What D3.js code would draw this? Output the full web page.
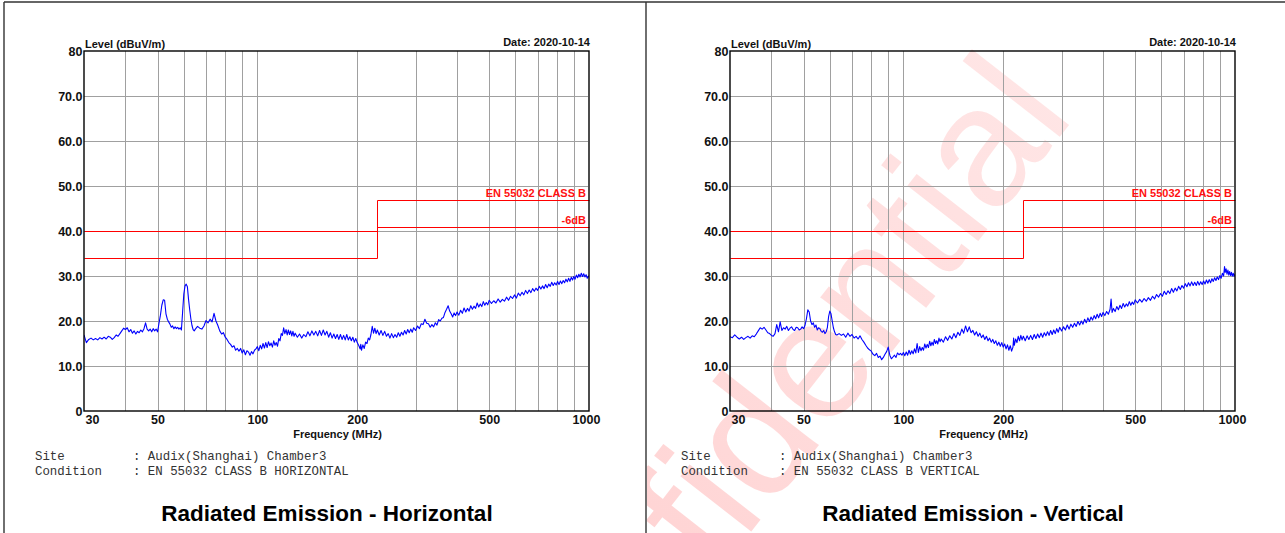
<!DOCTYPE html>
<html><head><meta charset="utf-8">
<script src="https://cdn.jsdelivr.net/npm/d3@7"></script>
<style>
html,body{margin:0;padding:0;background:#fff;}
svg{display:block;}
</style></head><body>
<svg id="c" width="1285" height="533"></svg>
<script>
// ---------- data ----------
const freqTicks = [30, 50, 100, 200, 500, 1000];
const freqGrid = [40, 50, 60, 70, 80, 90, 100, 200, 300, 400, 500, 600, 700, 800, 900];
const levelTicks = [0, 10, 20, 30, 40, 50, 60, 70, 80];
const levelGrid = [10, 20, 30, 40, 50, 60, 70];
const limitFreq = [30, 230, 230, 1000];
const limitClassB = [40, 40, 47, 47];
const limitMinus6 = [34, 34, 41, 41];
const limitLabels = ["EN 55032 CLASS B", "-6dB"];
const dateText = "Date: 2020-10-14";
const infoLabels = ["Site", "Condition"];
const siteText = "Audix(Shanghai) Chamber3";
const conditions = ["EN 55032 CLASS B HORIZONTAL", "EN 55032 CLASS B VERTICAL"];
const titles = ["Radiated Emission - Horizontal", "Radiated Emission - Vertical"];
const watermarkText = "Confidential";

// measured trace, horizontal polarisation [MHz, dBuV/m]
const horizontal = [
[30,16.9],[30.5,15.2],[31,15.9],[31.5,16.2],[32,15.8],[32.5,16.1],[33,15.8],[33.5,16.3],[34,16.0],[34.5,16.4],
[35,16.0],[35.5,16.6],[36,16.4],[36.5,15.9],[37,16.3],[37.5,16.9],[38,16.6],[38.5,17.2],[39,17.8],[39.5,18.4],
[40,18.1],[40.5,18.5],[41,17.6],[41.5,18.1],[42,17.3],[42.5,17.8],[43,17.1],[43.5,17.7],[44,17.4],[44.5,18.0],
[45,17.6],[45.5,18.3],[46,19.6],[46.5,18.2],[47,17.8],[47.5,18.2],[48,17.6],[48.5,18.3],[49,17.8],[49.5,18.2],
[50,17.6],[50.5,19.5],[51,21.3],[51.5,23.5],[52,24.7],[52.5,24.6],[53,21.6],[53.5,20.4],[54,19.8],[54.5,19.3],
[55,18.6],[55.5,18.9],[56,18.3],[56.5,18.7],[57,18.3],[57.5,18.6],[58,18.2],[58.5,18.5],[59,18.0],[59.5,22.0],
[60,26.0],[60.5,27.8],[61,28.2],[61.5,27.6],[62,24.8],[62.5,22.5],[63,20.5],[63.5,19.0],[64,18.1],[64.5,17.8],
[65,18.2],[66,18.8],[67,18.4],[68,18.2],[69,18.9],[70,20.1],[71,19.6],[72,20.4],[73,19.8],[74,21.7],
[75,20.0],[76,19.0],[77,17.8],[78,17.1],[79,17.4],[80,16.4],[81,15.9],[82,15.2],[83,14.8],[84,14.2],
[85,14.5],[86,13.5],[87,13.9],[88,13.3],[89,13.9],[90,12.9],[91,13.6],[92,12.5],[93,13.4],[94,13.1],
[95,12.4],[96,13.2],[97,12.7],[98,13.5],[99,13.8],
[100,14.3],[101,13.4],[102,14.6],[103,13.8],[104,15.0],[105,14.0],[106,15.2],[107,14.1],[108,15.4],[109,14.5],
[110,15.1],[111,14.2],[112,15.6],[113,14.6],[114,15.2],[115,14.4],[116,16.1],[117,15.6],[118,17.2],[119,16.8],
[120,18.5],[121,17.2],[122,18.1],[123,16.9],[124,18.0],[125,17.0],[126,17.8],[127,16.7],[128,17.7],[129,16.6],
[130,17.3],[132,16.4],[134,17.1],[136,16.2],[138,17.0],[140,16.5],[142,17.6],[144,16.7],[146,17.8],[148,16.9],
[150,17.7],[152,16.7],[154,17.9],[156,16.8],[158,18.0],[160,16.9],[162,17.7],[164,16.4],[166,17.4],[168,16.2],
[170,17.1],[172,16.1],[174,17.0],[176,15.9],[178,17.0],[180,15.9],[182,16.8],[184,15.8],[186,17.0],[188,15.8],
[190,16.5],[192,15.6],[194,16.4],[196,15.3],[198,16.1],[200,15.2],[202,14.6],[204,13.8],[205,14.8],[206,13.5],
[208,14.7],[210,13.9],[212,15.3],[214,15.0],[216,16.2],[218,15.8],[220,17.0],[222,18.8],[224,17.3],[226,18.4],
[228,17.2],[230,18.0],[233,16.9],[236,17.9],[239,16.8],[242,17.7],[245,16.6],[248,17.2],[251,16.2],[254,17.2],
[257,16.3],[260,17.0],[263,16.4],[266,17.4],[269,16.6],[272,17.5],[275,16.9],[278,17.9],[281,17.1],[284,18.1],
[287,17.4],[290,18.2],[293,17.5],[296,18.5],[300,17.9],[304,18.9],[308,18.3],[312,19.4],[316,19.2],[320,20.4],
[324,19.5],[328,19.4],[332,18.6],[336,19.2],[340,18.7],[344,19.6],[348,19.1],[352,20.3],[356,20.0],[360,20.6],
[364,20.8],[368,21.9],[372,22.6],[376,23.4],[380,22.2],[384,21.6],[388,20.9],[392,21.8],[396,21.2],[400,22.0],
[405,21.3],[410,22.4],[415,21.7],[420,22.9],[425,22.0],[430,22.8],[435,22.2],[440,23.4],[445,22.6],[450,23.3],
[455,22.8],[460,24.0],[465,23.1],[470,23.8],[475,23.2],[480,24.3],[485,23.5],[490,24.1],[495,23.6],[500,24.6],
[508,23.9],[516,24.5],[524,24.0],[532,24.9],[540,24.2],[548,24.8],[556,24.4],[564,25.3],[572,24.6],[580,25.5],
[588,25.0],[596,25.8],[604,25.1],[612,26.2],[620,25.6],[628,26.4],[636,25.8],[644,26.8],[652,26.1],[660,26.9],
[668,26.3],[676,27.2],[684,26.6],[692,27.3],[700,26.8],[708,27.7],[716,27.1],[724,27.8],[732,27.2],[740,28.1],
[748,27.4],[756,28.2],[764,27.7],[772,28.6],[780,27.9],[788,28.5],[796,28.0],[804,28.8],[812,28.1],[820,28.9],
[828,28.3],[836,29.0],[844,28.5],[852,29.3],[860,28.7],[868,29.5],[876,28.8],[884,29.7],[892,29.1],[900,29.9],
[908,29.3],[916,30.2],[924,29.6],[932,30.4],[940,29.8],[948,30.6],[956,29.9],[964,30.5],[972,29.8],[980,30.3],
[988,29.5],[996,30.0],[1000,29.7]
];

// measured trace, vertical polarisation [MHz, dBuV/m]
const vertical = [
[30,16.5],[30.5,16.3],[31,16.9],[31.5,16.4],[32,16.0],[32.5,16.4],[33,15.9],[33.5,16.3],[34,16.6],[34.5,16.2],
[35,16.7],[35.5,16.5],[36,17.1],[36.5,17.8],[37,18.5],[37.5,18.2],[38,18.6],[38.5,18.0],[39,17.4],[39.5,17.2],
[40,16.8],[40.5,16.6],[41,17.2],[41.5,19.2],[42,17.6],[42.5,19.8],[43,17.9],[43.5,18.5],[44,18.2],[44.5,18.8],
[45,17.9],[45.5,18.4],[46,18.7],[46.5,18.1],[47,17.9],[47.5,18.6],[48,18.5],[48.5,18.0],[49,18.2],[49.5,18.7],
[50,18.3],[50.5,19.0],[51,20.5],[51.5,22.5],[52,22.0],[52.5,20.0],[53,19.2],[53.5,19.6],[54,18.6],[54.5,19.1],
[55,18.0],[55.5,18.5],[56,18.3],[56.5,17.7],[57,17.5],[57.5,17.9],[58,17.2],[58.5,17.6],[59,18.6],[59.5,21.0],
[60,22.2],[60.5,21.6],[61,20.0],[61.5,18.5],[62,17.6],[62.5,17.0],[63,16.9],[64,17.2],[65,16.8],[66,17.1],
[67,16.4],[68,17.3],[69,16.6],[70,17.0],[71,16.2],[72,16.6],[73,16.0],[74,16.7],[75,15.9],[76,15.3],
[77,14.6],[78,14.0],[79,13.6],[80,13.3],[81,12.6],[82,12.3],[83,12.8],[84,11.9],[85,12.2],[86,11.4],
[87,11.9],[88,12.6],[89,13.2],[90,14.2],[91,12.4],[92,11.6],[93,12.0],[94,12.4],[95,11.9],[96,12.9],
[97,12.5],[98,12.8],[99,12.4],
[100,13.0],[101,12.3],[102,13.1],[103,12.4],[104,13.5],[105,12.6],[106,13.4],[107,12.7],[108,13.8],[109,12.9],
[110,15.0],[111,13.0],[112,14.3],[113,13.4],[114,14.1],[115,13.5],[116,14.9],[117,14.0],[118,14.8],[119,14.1],
[120,15.5],[121,14.5],[122,15.3],[123,14.6],[124,15.9],[125,15.0],[126,15.6],[127,14.9],[128,16.2],[129,15.4],
[130,16.0],[132,15.3],[134,16.5],[136,15.7],[138,16.7],[140,16.0],[142,17.2],[144,16.3],[146,17.5],[148,16.8],
[150,18.2],[152,17.3],[154,18.9],[156,17.6],[158,18.7],[160,17.4],[162,17.9],[164,16.9],[166,17.6],[168,16.6],
[170,17.3],[172,16.3],[174,16.9],[176,15.9],[178,16.6],[180,15.6],[182,16.2],[184,15.3],[186,15.9],[188,15.0],
[190,15.6],[192,14.6],[194,15.3],[196,14.4],[198,15.2],[200,14.2],[202,14.9],[204,13.8],[206,14.7],[208,13.5],
[210,14.5],[212,13.3],[214,14.2],[215,16.2],[216,14.6],[218,16.0],[220,15.2],[222,16.6],[224,15.6],[226,16.8],
[228,15.8],[230,16.6],[233,15.6],[236,16.7],[239,15.9],[242,16.8],[245,15.9],[248,17.0],[251,16.1],[254,17.1],
[257,16.3],[260,17.3],[263,16.4],[266,17.4],[269,16.7],[272,17.6],[275,16.8],[278,17.9],[281,17.0],[284,18.0],
[287,17.2],[290,18.3],[293,17.5],[296,18.6],[300,17.8],[304,18.7],[308,18.0],[312,19.1],[316,18.2],[320,19.3],
[324,18.6],[328,19.5],[332,18.8],[336,19.9],[340,19.1],[344,20.0],[348,19.3],[352,20.4],[356,19.6],[360,20.7],
[364,19.9],[368,20.9],[372,20.2],[376,21.2],[380,20.5],[384,21.5],[388,20.7],[392,21.7],[396,21.0],[400,21.9],
[405,21.2],[410,22.1],[415,21.5],[420,22.6],[423,24.9],[426,21.9],[430,22.8],[435,22.1],[440,23.2],[445,22.5],
[450,23.5],[455,22.8],[460,23.9],[465,23.1],[470,23.8],[475,23.3],[480,24.3],[485,23.5],[490,24.2],[495,23.7],
[500,24.7],[508,24.0],[516,24.8],[524,24.2],[532,25.0],[540,24.4],[548,25.2],[556,24.6],[564,25.5],[572,24.9],
[580,25.9],[588,25.3],[596,26.1],[604,25.5],[612,26.6],[620,25.9],[628,26.7],[636,26.1],[644,27.2],[652,26.4],
[660,27.3],[668,26.7],[676,27.7],[684,27.0],[692,27.9],[700,27.3],[708,28.3],[716,27.6],[724,28.5],[732,27.8],
[740,28.7],[748,27.9],[756,28.6],[764,27.9],[772,28.8],[780,28.0],[788,28.7],[796,28.1],[804,28.9],[812,28.2],
[820,29.1],[828,28.4],[836,29.2],[844,28.5],[852,29.4],[860,28.8],[868,29.6],[876,29.0],[884,29.8],[892,29.2],
[900,30.1],[908,29.5],[916,30.6],[924,30.0],[930,32.1],[934,30.8],[940,31.6],[946,30.4],[952,31.3],[958,30.2],
[964,31.0],[970,30.1],[976,30.8],[982,30.0],[988,30.6],[994,29.9],[1000,30.4]
];

// ---------- drawing ----------
const svg = d3.select("#c");
const SANS = "'Liberation Sans', Arial, Helvetica, sans-serif";
const MONO = "'Liberation Mono', 'Courier New', monospace";

// watermark (behind everything, right page only)
const defs = svg.append("defs");
const grad = defs.append("linearGradient").attr("id", "wm")
  .attr("x1", 0).attr("y1", 0).attr("x2", 1).attr("y2", 0);
grad.append("stop").attr("offset", 0).attr("stop-color", "#ffcaca");
grad.append("stop").attr("offset", 0.5).attr("stop-color", "#ffd9d9");
grad.append("stop").attr("offset", 1).attr("stop-color", "#ffe5e5");
defs.append("clipPath").attr("id", "wmclip").append("rect")
  .attr("x", 647).attr("y", 3).attr("width", 640).attr("height", 533);
svg.append("g").attr("clip-path", "url(#wmclip)")
  .append("text")
  .attr("transform", "translate(1076,116) rotate(-52)")
  .attr("text-anchor", "end")
  .attr("font-family", SANS)
  .attr("font-size", 170)
  .attr("fill", "url(#wm)")
  .text(watermarkText);

// page frames
const frame = svg.append("g").attr("stroke", "#333").attr("stroke-width", 1.4).attr("fill", "none");
frame.append("line").attr("x1", 4).attr("x2", 1285).attr("y1", 2).attr("y2", 2);
frame.append("line").attr("x1", 4).attr("x2", 4).attr("y1", 2).attr("y2", 533);
frame.append("line").attr("x1", 646).attr("x2", 646).attr("y1", 2).attr("y2", 533);

function drawPanel(ox, trace, condition, title) {
  const L = 84, R = 589, T = 51, B = 411;
  const g = svg.append("g").attr("transform", `translate(${ox},0)`);
  const x = d3.scaleLog().domain([30, 1000]).range([L, R]);
  const y = d3.scaleLinear().domain([0, 80]).range([B, T]);
  const cx = v => Math.round(x(v)) + 0.5;
  const cy = v => Math.round(y(v)) + 0.5;

  // grid
  g.append("g").selectAll("line").data(freqGrid).join("line")
    .attr("x1", d => cx(d)).attr("x2", d => cx(d)).attr("y1", T).attr("y2", B)
    .attr("stroke", "#a0a0a0").attr("stroke-width", 1);
  g.append("g").selectAll("line").data(levelGrid).join("line")
    .attr("x1", L).attr("x2", R - 1).attr("y1", d => cy(d)).attr("y2", d => cy(d))
    .attr("stroke", "#a0a0a0").attr("stroke-width", 1);

  // limit lines
  const lim = d3.line().x(d => cx(d[0])).y(d => cy(d[1]));
  [limitClassB, limitMinus6].forEach(arr => {
    g.append("path").datum(limitFreq.map((f, i) => [f, arr[i]]))
      .attr("d", lim).attr("fill", "none").attr("stroke", "#ff0000").attr("stroke-width", 1);
  });
  const lblStyle = s => s.attr("text-anchor", "end").attr("font-family", SANS).attr("font-weight", "bold")
    .attr("font-size", 11).attr("fill", "#ff1010");
  g.append("text").attr("x", R - 3).attr("y", y(limitClassB[3]) - 3).call(lblStyle).text(limitLabels[0]);
  g.append("text").attr("x", R - 3).attr("y", y(limitMinus6[3]) - 3).call(lblStyle).text(limitLabels[1]);

  // trace
  const clipId = "pc" + ox;
  g.append("clipPath").attr("id", clipId).append("rect").attr("x", L).attr("y", T).attr("width", R - L).attr("height", B - T);
  g.append("path").datum(trace).attr("clip-path", `url(#${clipId})`)
    .attr("d", d3.line().x(d => x(d[0])).y(d => y(d[1])))
    .attr("fill", "none").attr("stroke", "#0000ff").attr("stroke-width", 1.1).attr("stroke-linejoin", "round");

  // frame
  g.append("rect").attr("x", L).attr("y", T).attr("width", R - L).attr("height", B - T)
    .attr("fill", "none").attr("stroke", "#000").attr("stroke-width", 1.4);

  // axes
  const fmtY = d => d === 0 ? "0" : d === 80 ? "80" : d.toFixed(1);
  const ya = g.append("g").attr("transform", `translate(${L},0)`)
    .call(d3.axisLeft(y).tickValues(levelTicks).tickFormat(fmtY).tickSize(0).tickPadding(1.5));
  ya.select(".domain").remove();
  ya.attr("font-family", SANS).attr("font-size", 12.5);
  ya.selectAll("text").attr("font-weight", "bold").attr("fill", "#111").attr("dy", "0.36em");

  const xa = g.append("g").attr("transform", `translate(0,${B})`)
    .call(d3.axisBottom(x).tickValues(freqTicks).tickFormat(d3.format("d")).tickSize(0).tickPadding(4));
  xa.select(".domain").remove();
  xa.attr("font-family", SANS).attr("font-size", 12.5);
  xa.selectAll("text").attr("font-weight", "bold").attr("fill", "#111");
  xa.selectAll("text").filter(d => d === 30).attr("text-anchor", "start").attr("dx", 1);
  xa.selectAll("text").filter(d => d === 1000).attr("dx", -3);

  // headings
  const head = s => s.attr("font-family", SANS).attr("font-weight", "bold").attr("font-size", 11).attr("fill", "#111");
  g.append("text").attr("x", L + 1).attr("y", 47.5).call(head).text("Level (dBuV/m)");
  g.append("text").attr("x", R + 1).attr("y", 45.5).attr("text-anchor", "end").call(head).text(dateText);
  g.append("text").attr("x", (L + R) / 2 + 1).attr("y", 438).attr("text-anchor", "middle").call(head).text("Frequency (MHz)");

  // info lines
  const info = g.append("g").attr("font-family", MONO).attr("font-size", 12.4).attr("fill", "#333");
  info.append("text").attr("x", 35).attr("y", 460).text(infoLabels[0]);
  info.append("text").attr("x", 133).attr("y", 460).text(": " + siteText);
  info.append("text").attr("x", 35).attr("y", 475).text(infoLabels[1]);
  info.append("text").attr("x", 133).attr("y", 475).text(": " + condition);

  g.append("text").attr("x", 327).attr("y", 521).attr("text-anchor", "middle").attr("font-family", SANS)
    .attr("font-weight", "bold").attr("font-size", 22.5).attr("fill", "#000").text(title);
}

drawPanel(0, horizontal, conditions[0], titles[0]);
drawPanel(646, vertical, conditions[1], titles[1]);
</script>
</body></html>
